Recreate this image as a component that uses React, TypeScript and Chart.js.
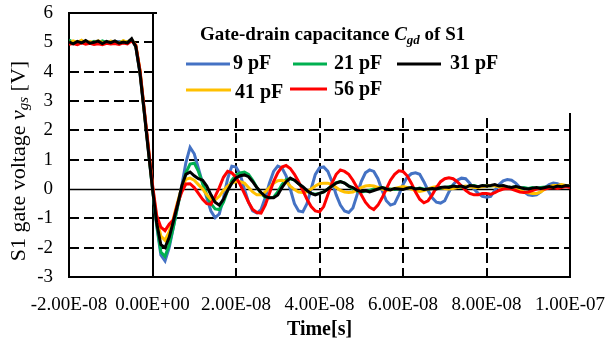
import React, { useEffect, useRef } from 'react';
import { Chart, registerables } from 'chart.js';

Chart.register(...registerables);

// Sampling grid of the recorded waveforms (ns)
const T_START_NS = -20;
const T_STEP_NS = 1;

// S1 gate voltage vgs [V] for each gate-drain capacitance, one sample per ns from -20 ns to 100 ns
const vgs9pF = [
  4.98, 5.02, 4.97, 5.03, 4.99, 4.96, 5.02, 5.04, 4.98, 5.01,
  4.97, 5.0, 5.03, 4.98, 5.02, 5.1, 4.85, 3.95, 2.65, 1.35,
  0.05, -1.25, -2.25, -2.45, -2.0, -1.3, -0.6, 0.1, 0.9, 1.42,
  1.2, 0.7, 0.2, -0.3, -0.75, -0.98, -0.85, -0.3, 0.35, 0.78,
  0.75, 0.5, 0.0, -0.45, -0.75, -0.82, -0.7, -0.3, 0.2, 0.6,
  0.78, 0.72, 0.45, 0.0, -0.5, -0.75, -0.78, -0.5, 0.0, 0.5,
  0.72, 0.75, 0.6, 0.25, -0.2, -0.55, -0.75, -0.8, -0.65, -0.2,
  0.25, 0.55, 0.65, 0.6, 0.35, -0.05, -0.4, -0.55, -0.5, -0.2,
  0.15, 0.4, 0.52, 0.55, 0.5, 0.25, -0.05, -0.3, -0.45, -0.48,
  -0.4, -0.1, 0.15, 0.3, 0.37, 0.35, 0.2, 0.0, -0.15, -0.25,
  -0.28, -0.25, -0.05, 0.15, 0.28, 0.32, 0.3, 0.2, 0.05, -0.1,
  -0.2, -0.22, -0.2, -0.1, 0.05, 0.15, 0.2, 0.18, 0.12, 0.08,
  0.1,
];

const vgs21pF = [
  5.08, 5.0, 4.96, 5.04, 5.0, 4.97, 5.03, 4.98, 5.05, 4.99,
  4.96, 5.02, 4.98, 5.04, 5.0, 5.08, 4.88, 4.0, 2.7, 1.35,
  0.0, -1.2, -2.15, -2.3, -1.9, -1.3, -0.6, 0.0, 0.55, 0.85,
  0.88, 0.6, 0.2, -0.2, -0.5, -0.68, -0.7, -0.45, -0.05, 0.3,
  0.48, 0.55, 0.58, 0.5, 0.3, 0.05, -0.15, -0.28, -0.3, -0.28,
  -0.1, 0.15, 0.32, 0.35, 0.3, 0.18, 0.05, -0.08, -0.15, -0.18,
  -0.15, -0.1, 0.0, 0.12, 0.22, 0.25, 0.2, 0.1, 0.0, -0.08,
  -0.1, -0.08, -0.05, 0.0, 0.05, 0.05, 0.02, 0.0, -0.02, 0.0,
  0.03, 0.05, 0.02, 0.0, 0.03, 0.0, -0.02, 0.02, 0.05, 0.03,
  0.05, 0.08, 0.1, 0.07, 0.05, 0.08, 0.1, 0.12, 0.08, 0.1,
  0.12, 0.1, 0.13, 0.08, 0.1, 0.07, 0.05, 0.08, 0.03, 0.05,
  0.02, 0.05, 0.03, 0.05, 0.07, 0.05, 0.1, 0.08, 0.1, 0.12,
  0.1,
];

const vgs31pF = [
  5.02, 4.95, 5.03, 4.98, 5.06, 4.97, 5.0, 5.04, 4.96, 5.03,
  4.99, 5.05, 4.97, 5.01, 4.98, 5.12, 4.85, 3.95, 2.65, 1.3,
  0.0, -1.15, -1.9, -2.0, -1.65, -1.1, -0.55, 0.1, 0.5, 0.58,
  0.45, 0.35, 0.3, 0.1, -0.2, -0.45, -0.55, -0.35, -0.05, 0.2,
  0.38, 0.45, 0.48, 0.42, 0.25, 0.05, -0.12, -0.25, -0.3, -0.3,
  -0.2, 0.05, 0.25, 0.37, 0.3, 0.18, 0.08, -0.05, -0.15, -0.2,
  -0.15, -0.1, 0.0, 0.1, 0.2, 0.25, 0.2, 0.1, 0.05, -0.05,
  -0.08, -0.05, -0.1, -0.05, 0.0, 0.05, 0.0, -0.03, 0.02, 0.0,
  -0.02, 0.03, 0.05, 0.0, 0.02, -0.02, 0.0, 0.02, 0.0, 0.05,
  0.07, 0.05, 0.1, 0.08, 0.1, 0.05, 0.12, 0.1, 0.08, 0.12,
  0.1, 0.12, 0.15, 0.1, 0.12, 0.08, 0.05, 0.08, 0.05, 0.02,
  0.0, 0.03, 0.05, 0.02, 0.05, 0.08, 0.05, 0.1, 0.08, 0.12,
  0.1,
];

const vgs41pF = [
  4.97, 5.05, 5.0, 5.07, 4.98, 5.03, 4.99, 5.05, 5.0, 4.96,
  5.04, 5.01, 4.97, 5.06, 5.0, 5.1, 4.9, 4.05, 2.7, 1.4,
  0.1, -1.0, -1.6, -1.75, -1.45, -1.0, -0.45, 0.05, 0.33, 0.37,
  0.3, 0.15, 0.0, -0.2, -0.35, -0.37, -0.25, -0.05, 0.1, 0.2,
  0.25, 0.25, 0.2, 0.05, -0.1, -0.2, -0.2, -0.1, 0.05, 0.2,
  0.28, 0.3, 0.25, 0.1, -0.02, -0.1, -0.12, -0.1, 0.0, 0.1,
  0.18, 0.2, 0.2, 0.15, 0.05, -0.05, -0.1, -0.12, -0.1, -0.02,
  0.05, 0.1, 0.12, 0.1, 0.05, 0.0, -0.05, -0.03, 0.02, 0.05,
  0.08, 0.05, 0.0, -0.05, -0.08, -0.05, 0.0, 0.05, 0.08, 0.05,
  0.02, 0.0, 0.02, 0.05, 0.08, 0.1, 0.08, 0.05, 0.05, 0.08,
  0.1, 0.12, 0.1, 0.08, 0.05, 0.05, 0.02, 0.0, -0.05, -0.1,
  -0.13, -0.15, -0.15, -0.1, 0.0, 0.08, 0.12, 0.12, 0.15, 0.12,
  0.1,
];

const vgs56pF = [
  4.93, 4.96, 4.92, 4.98, 4.94, 4.97, 4.93, 4.95, 4.92, 4.97,
  4.94, 4.96, 4.93, 4.98, 4.95, 5.05, 4.9, 4.05, 2.75, 1.45,
  0.15, -0.9, -1.3, -1.42, -1.2, -1.05, -0.5, -0.1, 0.17, 0.18,
  0.05, -0.15, -0.35, -0.5, -0.52, -0.25, 0.05, 0.4, 0.6, 0.55,
  0.4, 0.15, -0.15, -0.45, -0.7, -0.8, -0.82, -0.55, -0.15, 0.25,
  0.55, 0.75, 0.8, 0.7, 0.5, 0.25, -0.05, -0.35, -0.6, -0.75,
  -0.78, -0.6, -0.2, 0.2, 0.5, 0.65, 0.6, 0.5, 0.3, 0.05,
  -0.2, -0.45, -0.62, -0.7, -0.55, -0.3, 0.0, 0.3, 0.5, 0.62,
  0.6, 0.45, 0.2, -0.1, -0.35, -0.47, -0.4, -0.2, 0.05, 0.25,
  0.35, 0.38, 0.35, 0.25, 0.1, -0.05, -0.15, -0.2, -0.2, -0.15,
  -0.15, -0.18, -0.12, -0.05, 0.0, 0.02, 0.0, -0.05, -0.1, -0.12,
  -0.1, -0.05, 0.0, 0.02, 0.0, 0.03, 0.05, 0.02, 0.05, 0.08,
  0.05,
];

const seriesLabels = ['9 pF', '21 pF', '31 pF', '41 pF', '56 pF'];
const seriesColors = ['#4472C4', '#00B050', '#000000', '#FFC000', '#FF0000'];
const seriesValues = [vgs9pF, vgs21pF, vgs31pF, vgs41pF, vgs56pF];
// stacking: black on top, then red, yellow, green, blue
const seriesOrder = [4, 3, 0, 2, 1];

// Axes (time in ns, voltage in V)
const xMin = -20;
const xMax = 100;
const xStep = 20;
const xTickLabels = ['-2.00E-08', '0.00E+00', '2.00E-08', '4.00E-08', '6.00E-08', '8.00E-08', '1.00E-07'];
const xDashedGrid = [20, 40, 60, 80];
const yMin = -3;
const yMax = 6;
const yDashedGrid = [-2, -1, 1, 2, 3, 4, 5];

const SERIF = "'Liberation Serif', 'Times New Roman', serif";

const timeNs = vgs9pF.map((_, i) => T_START_NS + i * T_STEP_NS);

function drawRuns(
  ctx: CanvasRenderingContext2D,
  runs: { text: string; font: string; dy: number }[],
  x: number,
  y: number,
) {
  let cx = x;
  for (const r of runs) {
    ctx.font = r.font;
    ctx.fillText(r.text, cx, y + r.dy);
    cx += ctx.measureText(r.text).width;
  }
  return cx;
}

function runsWidth(ctx: CanvasRenderingContext2D, runs: { text: string; font: string }[]) {
  let w = 0;
  for (const r of runs) {
    ctx.font = r.font;
    w += ctx.measureText(r.text).width;
  }
  return w;
}

const framePlugin = {
  id: 'frameAndGrid',
  beforeDatasetsDraw(chart: any) {
    const { ctx, chartArea: a, scales } = chart;
    const x = scales.x;
    const y = scales.y;
    ctx.save();
    ctx.strokeStyle = '#000';
    ctx.lineWidth = 2;
    ctx.setLineDash([10, 5]);
    for (const v of yDashedGrid) {
      const py = Math.round(y.getPixelForValue(v));
      ctx.beginPath();
      ctx.moveTo(a.left, py);
      ctx.lineTo(a.right, py);
      ctx.stroke();
    }
    for (const v of xDashedGrid) {
      const px = Math.round(x.getPixelForValue(v));
      ctx.beginPath();
      ctx.moveTo(px, a.top);
      ctx.lineTo(px, a.bottom);
      ctx.stroke();
    }
    ctx.setLineDash([]);
    // zero lines
    const y0 = Math.round(y.getPixelForValue(0)) + 0.5;
    ctx.lineWidth = 1.5;
    ctx.beginPath();
    ctx.moveTo(a.left, y0);
    ctx.lineTo(a.right, y0);
    ctx.stroke();
    const x0 = Math.round(x.getPixelForValue(0));
    ctx.lineWidth = 2;
    ctx.beginPath();
    ctx.moveTo(x0, a.top);
    ctx.lineTo(x0, a.bottom);
    ctx.stroke();
    // plot frame
    ctx.strokeRect(a.left, a.top, a.right - a.left, a.bottom - a.top);
    ctx.restore();
  },
  afterDatasetsDraw(chart: any) {
    const { ctx, chartArea: a } = chart;
    ctx.save();

    // legend panel
    ctx.fillStyle = '#fff';
    ctx.fillRect(157, 3, 430, 110);

    ctx.fillStyle = '#000';
    ctx.textBaseline = 'alphabetic';
    ctx.textAlign = 'left';
    drawRuns(
      ctx,
      [
        { text: 'Gate-drain capacitance ', font: `bold 19px ${SERIF}`, dy: 0 },
        { text: 'C', font: `italic bold 19px ${SERIF}`, dy: 0 },
        { text: 'gd', font: `italic bold 13px ${SERIF}`, dy: 4 },
        { text: ' of S1', font: `bold 19px ${SERIF}`, dy: 0 },
      ],
      200,
      40,
    );

    const items = [
      { x1: 186, x2: 230, y: 64, tx: 233, ty: 64 },
      { x1: 293, x2: 327, y: 64, tx: 334, ty: 64 },
      { x1: 397, x2: 441, y: 64, tx: 450, ty: 64 },
      { x1: 186, x2: 231, y: 90, tx: 235, ty: 93 },
      { x1: 290, x2: 327, y: 89, tx: 334, ty: 90 },
    ];
    items.forEach((it, i) => {
      ctx.strokeStyle = seriesColors[i];
      ctx.lineWidth = 3;
      ctx.beginPath();
      ctx.moveTo(it.x1, it.y);
      ctx.lineTo(it.x2, it.y);
      ctx.stroke();
      ctx.fillStyle = '#000';
      ctx.font = `bold 20px ${SERIF}`;
      ctx.textBaseline = 'middle';
      ctx.fillText(seriesLabels[i], it.tx, it.ty);
    });

    // x axis title
    ctx.textBaseline = 'middle';
    ctx.textAlign = 'center';
    ctx.font = `bold 20px ${SERIF}`;
    ctx.fillText('Time[s]', (a.left + a.right) / 2, 330);

    // y axis title
    ctx.textAlign = 'left';
    ctx.textBaseline = 'middle';
    const yRuns = [
      { text: 'S1 gate voltage ', font: `22px ${SERIF}`, dy: 0 },
      { text: 'v', font: `italic 22px ${SERIF}`, dy: 0 },
      { text: 'gs', font: `italic 15px ${SERIF}`, dy: 5 },
      { text: ' [V]', font: `22px ${SERIF}`, dy: 0 },
    ];
    const w = runsWidth(ctx, yRuns);
    ctx.translate(19, 161);
    ctx.rotate(-Math.PI / 2);
    drawRuns(ctx, yRuns, -w / 2, 0);

    ctx.restore();
  },
};

export default function App() {
  const canvasRef = useRef<HTMLCanvasElement | null>(null);

  useEffect(() => {
    const canvas = canvasRef.current;
    if (!canvas) return;
    const chart = new Chart(canvas, {
      type: 'line',
      data: {
        datasets: seriesValues.map((vals, i) => ({
          label: seriesLabels[i],
          data: vals.map((v, k) => ({ x: timeNs[k], y: v })),
          borderColor: seriesColors[i],
          backgroundColor: seriesColors[i],
          borderWidth: 3,
          pointRadius: 0,
          tension: 0,
          fill: false,
          order: seriesOrder[i],
        })),
      },
      options: {
        responsive: false,
        animation: false,
        devicePixelRatio: 1,
        layout: { padding: { top: 13, right: 39, left: 0, bottom: 0 } },
        plugins: {
          legend: { display: false },
          tooltip: { enabled: false },
          title: { display: false },
        },
        scales: {
          x: {
            type: 'linear',
            min: xMin,
            max: xMax,
            grid: { display: false, drawTicks: false },
            border: { display: false },
            ticks: {
              stepSize: xStep,
              autoSkip: false,
              maxRotation: 0,
              minRotation: 0,
              padding: 17,
              color: '#000',
              font: { family: SERIF, size: 19 },
              callback: (_v: any, index: number) => xTickLabels[index],
            },
            afterFit: (scale: any) => {
              scale.height = 70;
              scale.paddingLeft = 0;
              scale.paddingRight = 0;
            },
          },
          y: {
            type: 'linear',
            min: yMin,
            max: yMax,
            grid: { display: false, drawTicks: false },
            border: { display: false },
            ticks: {
              stepSize: 1,
              padding: 16,
              color: '#000',
              font: { family: SERIF, size: 19 },
            },
            afterFit: (scale: any) => {
              scale.width = 69;
              scale.paddingTop = 0;
              scale.paddingBottom = 0;
            },
          },
        },
      },
      plugins: [framePlugin],
    });
    return () => chart.destroy();
  }, []);

  return (
    <div style={{ position: 'fixed', left: 0, top: 0, width: 609, height: 347, background: '#fff' }}>
      <canvas ref={canvasRef} width={609} height={347} />
    </div>
  );
}
